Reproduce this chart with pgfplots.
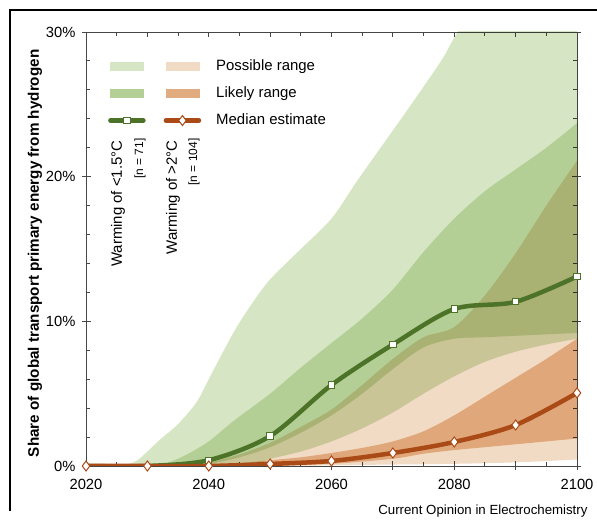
\documentclass[border=0pt]{standalone}
\usepackage{pgfplots}
\pgfplotsset{compat=1.18}
\usepgfplotslibrary{fillbetween}
\usepackage{fontspec}
\setmainfont{Liberation Sans}
\definecolor{gp}{RGB}{214,230,196}
\definecolor{op}{RGB}{241,219,196}
\definecolor{ol}{RGB}{238,196,160}
\definecolor{gmed}{RGB}{180,207,150}
\definecolor{omed}{RGB}{224,172,128}
\definecolor{gline}{RGB}{76,115,40}
\definecolor{oline}{RGB}{170,74,22}
\definecolor{axgray}{RGB}{70,70,70}
\newcommand\tickfont{\fontsize{14.8}{17}\selectfont}
\newcommand\legfont{\fontsize{15}{18}\selectfont}
\begin{document}
\begin{tikzpicture}[x=1bp,y=1bp]
\begin{axis}[
  at={(86bp,64bp)}, anchor=south west, scale only axis,
  width=491bp, height=434bp,
  xmin=2020, xmax=2100, ymin=0, ymax=30,
  axis line style={draw=axgray, line width=0.9bp},
  every tick/.style={draw=axgray, line width=0.9bp},
  tick align=inside, major tick length=5bp, minor tick length=4bp,
  xtick={2020,2030,...,2100},
  xticklabels={2020,,2040,,2060,,2080,,2100},
  minor x tick num=1,
  ytick={0,10,20,30},
  yticklabels={0\%,10\%,20\%,30\%},
  minor y tick num=4,
  extra x ticks={2020,2030,...,2100}, extra x tick labels={},
  extra x tick style={tick align=outside, xtick pos=bottom, major tick length=4bp},
  extra y ticks={0,10,20,30}, extra y tick labels={},
  extra y tick style={tick align=outside, major tick length=4bp},
  ticklabel style={font=\tickfont},
  xticklabel style={yshift=-10bp},
  yticklabel style={xshift=-7bp},
  ylabel={Share of global transport primary energy from hydrogen},
  ylabel style={font=\fontsize{15.3}{18}\selectfont\bfseries, at={(axis description cs:-0.1039,0.49)}, anchor=center},
  legend columns=2,
  legend style={draw=none, fill=none, at={(axis description cs:0.0448,0.937)}, anchor=north west,
    inner sep=0pt, font=\legfont, row sep=13bp,
    nodes={inner sep=0pt, anchor=west, text height=11bp, text depth=3bp},
    /tikz/every odd column/.style={column sep=15bp},
    /tikz/every even column/.style={column sep=2bp}},
]
% ---- band boundaries ----
\addplot[name path=gpu, draw=none, smooth, forget plot] coordinates {
 (2020,0) (2025,0) (2028,0.3) (2030,1.0) (2032,1.8) (2035,2.9) (2038,4.4) (2040,6.0)
 (2044,9.2) (2047,11.2) (2050,12.9) (2055,15.0) (2060,17.1) (2064,19.6) (2068,22.0)
 (2073,25.0) (2078,28.1) (2081,30.3) (2090,36) (2100,42)};
\addplot[name path=gpl, draw=none, smooth, forget plot] coordinates {
 (2020,0) (2045,0) (2050,0.5) (2055,1.0) (2060,1.7) (2065,2.6) (2070,3.7) (2075,5.0)
 (2080,6.2) (2085,7.2) (2090,7.9) (2095,8.4) (2100,8.8)};
\addplot[name path=glu, draw=none, smooth, forget plot] coordinates {
 (2020,0) (2030,0) (2033,0.2) (2036,0.7) (2040,1.7) (2044,3.1) (2050,5.0) (2055,6.8)
 (2060,8.5) (2065,10.2) (2070,12.2) (2075,14.8) (2080,17.1) (2085,19.0) (2090,20.5)
 (2095,22.0) (2100,23.7)};
\addplot[name path=gll, draw=none, smooth, forget plot] coordinates {
 (2020,0) (2035,0) (2040,0.15) (2045,0.6) (2050,1.3) (2055,2.3) (2060,3.5) (2065,5.0)
 (2070,6.7) (2075,8.2) (2080,8.8) (2085,8.9) (2090,9.0) (2095,9.1) (2100,9.2)};
\addplot[name path=opu, draw=none, smooth, forget plot] coordinates {
 (2020,0) (2035,0) (2040,0.25) (2045,0.8) (2050,1.6) (2055,2.7) (2060,3.9) (2065,5.6)
 (2070,7.4) (2075,8.9) (2080,9.6) (2085,11.8) (2090,14.7) (2095,18.0) (2100,21.1)};
\addplot[name path=opl, draw=none, smooth, forget plot] coordinates {
 (2020,0) (2050,0) (2060,0.05) (2070,0.1) (2080,0.15) (2090,0.25) (2100,0.45)};
\addplot[name path=olu, draw=none, smooth, forget plot] coordinates {
 (2020,0) (2040,0.05) (2045,0.2) (2050,0.4) (2055,0.6) (2060,0.9) (2065,1.25) (2070,1.7)
 (2075,2.4) (2080,3.5) (2085,4.8) (2090,6.1) (2095,7.4) (2100,8.8)};
\addplot[name path=oll, draw=none, smooth, forget plot] coordinates {
 (2020,0) (2045,0) (2050,0.03) (2060,0.15) (2070,0.5) (2075,0.85) (2080,1.1) (2085,1.3)
 (2090,1.5) (2095,1.7) (2100,1.9)};
% ---- bands ----
\addplot[fill=gp, draw=none, blend mode=multiply, forget plot] fill between[of=gpu and gpl];
\addplot[fill=gp, draw=none, blend mode=multiply, forget plot] fill between[of=glu and gll];
\addplot[fill=op, draw=none, blend mode=multiply, forget plot] fill between[of=opu and opl];
\addplot[fill=ol, draw=none, blend mode=multiply, forget plot] fill between[of=olu and oll];
% ---- medians ----
\addplot[gline, line width=4.5bp, smooth, line cap=round, mark=square*, mark size=3.2bp,
  mark indices={3,4,5,6,7,8,9}, mark options={fill=white, draw=gline, line width=1bp, solid}, forget plot]
  coordinates {(2020,0) (2030,0) (2040,0.4) (2050,2.07) (2060,5.6) (2070,8.4) (2080,10.85) (2090,11.35) (2100,13.1)};
\addplot[oline, line width=4.5bp, smooth, line cap=round, mark=diamond*, mark size=5bp,
  mark options={fill=white, draw=oline, line width=1bp, solid}, forget plot]
  coordinates {(2020,0) (2030,0) (2040,0) (2050,0.14) (2060,0.35) (2070,0.9) (2080,1.66) (2090,2.83) (2100,5.05)};
% ---- legend ----
\addlegendimage{legend image code/.code={\fill[gp] (0bp,-4bp) rectangle (33bp,4bp);}}
\addlegendentry{}
\addlegendimage{legend image code/.code={\fill[op] (0bp,-4bp) rectangle (33bp,4bp);}}
\addlegendentry{Possible range}
\addlegendimage{legend image code/.code={\fill[gmed] (0bp,-4bp) rectangle (33bp,4bp);}}
\addlegendentry{}
\addlegendimage{legend image code/.code={\fill[omed] (0bp,-4bp) rectangle (33bp,4bp);}}
\addlegendentry{Likely range}
\addlegendimage{legend image code/.code={\draw[gline, line width=4.5bp, line cap=round, mark repeat=2, mark phase=2, mark=square*, mark size=3.2bp, mark options={fill=white, draw=gline, line width=1bp}] plot coordinates {(0bp,0bp) (16.5bp,0bp) (33bp,0bp)};}}
\addlegendentry{}
\addlegendimage{legend image code/.code={\draw[oline, line width=4.5bp, line cap=round, mark repeat=2, mark phase=2, mark=diamond*, mark size=5bp, mark options={fill=white, draw=oline, line width=1bp}] plot coordinates {(0bp,0bp) (16.5bp,0bp) (33bp,0bp)};}}
\addlegendentry{Median estimate}
\end{axis}
\node[rotate=90, anchor=east, font=\fontsize{15}{18}\selectfont] at (118,393) {Warming of <1.5°C};
\node[rotate=90, anchor=east, font=\fontsize{12}{14}\selectfont] at (140,395) {[n = 71]};
\node[rotate=90, anchor=east, font=\fontsize{15}{18}\selectfont] at (173,393) {Warming of >2°C};
\node[rotate=90, anchor=east, font=\fontsize{12}{14}\selectfont] at (194,395) {[n = 104]};
\node[anchor=east, font=\fontsize{13.3}{15}\selectfont] at (591,19) {Current Opinion in Electrochemistry};
\draw[line width=1.3bp] (597,520) -- (10,520) -- (10,19);
\pgfresetboundingbox
\useasboundingbox (0,0) rectangle (597,530);
\end{tikzpicture}
\end{document}
